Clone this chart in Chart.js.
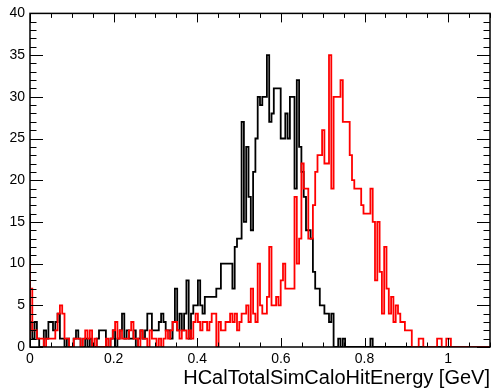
<!DOCTYPE html>
<html><head><meta charset="utf-8">
<script src="https://cdn.jsdelivr.net/npm/chart.js@4"></script>
<style>html,body{margin:0;padding:0;background:#fff;}#wrap{width:491px;height:390px;}</style>
</head><body><div id="wrap"><canvas id="c" width="491" height="390"></canvas></div>
<script>
const xMin = 0, xMax = 1.1, binWidth = 0.0055;
const blackCounts = [
16,3,1,3,1,0,0,2,1,3,
3,2,3,4,1,1,0,1,0,0,
1,2,1,0,0,1,0,1,0,0,
1,2,2,2,0,0,1,2,0,1,
2,4,1,2,1,1,2,0,1,2,
1,2,4,4,2,2,2,3,4,3,
2,2,1,3,7,2,4,2,4,8,
1,4,5,5,8,5,4,6,6,6,
6,6,7,7,10,10,10,10,10,7,
12,13,13,27,15,24,18,14,21,25,
30,29,30,30,35,27,28,31,31,31,
25,25,28,25,30,30,19,32,24,21,
18,14,14,13,9,7,7,5,5,4,
4,3,4,0,0,1,0,1,0,0,
0,0,0,0,0,0,0,0,0,1,
0,0,0,0,0,0,0,0,0,0,
0,0,0,0,0,0,0,0,0,0,
0,0,0,0,0,0,0,0,0,0,
0,0,0,0,0,0,0,0,0,0,
0,0,0,0,0,0,0,0,0,0];
const redCounts = [
10,7,2,2,1,1,1,0,1,1,
1,1,2,4,5,4,1,1,0,0,
1,1,1,0,1,2,1,2,0,1,
0,0,0,0,1,0,1,2,3,1,
2,1,1,1,2,3,1,1,0,2,
1,1,0,2,1,1,0,1,0,1,
2,1,2,3,3,2,1,2,2,1,
2,1,3,4,3,2,3,3,2,3,
4,4,0,3,2,2,3,3,4,3,
4,2,3,4,4,5,3,7,4,3,
10,5,4,4,6,12,5,5,6,5,
8,10,7,7,7,7,18,10,13,22,
19,19,13,13,17,21,23,23,26,22,
22,35,19,30,30,30,32,27,27,27,
23,20,19,19,19,17,16,16,16,19,
15,8,15,9,4,12,7,4,6,3,
5,4,3,3,2,2,2,0,0,0,
1,1,0,0,0,0,0,0,1,1,
0,0,1,1,0,0,0,0,0,0,
0,0,0,0,0,0,0,0,0,0];
const xTickLabels = [0, 0.2, 0.4, 0.6, 0.8, 1];
const yTickValues = [0, 5, 10, 15, 20, 25, 30, 35, 40];
const xMinorStep = 0.05, yMinorStep = 1;
const xTitle = 'HCalTotalSimCaloHitEnergy [GeV]';

function stepPoints(counts) {
  const pts = [{x: xMin, y: 0}];
  counts.forEach((v, i) => pts.push({x: xMin + i * binWidth, y: v}));
  pts.push({x: xMin + counts.length * binWidth, y: counts[counts.length - 1]});
  return pts;
}

const frameTicks = {
  id: 'frameTicks',
  afterDatasetsDraw(chart) {
    const {ctx, chartArea: a, scales: {x, y}} = chart;
    ctx.save();
    ctx.strokeStyle = '#000';
    ctx.lineWidth = 1;
    const line = (x1, y1, x2, y2) => { ctx.beginPath(); ctx.moveTo(x1, y1); ctx.lineTo(x2, y2); ctx.stroke(); };
    const nx = Math.round((xMax - xMin) / xMinorStep);
    for (let k = 0; k <= nx; k++) {
      const v = xMin + k * xMinorStep;
      const px = Math.round(x.getPixelForValue(v)) + 0.5;
      const len = (k % 4 === 0) ? 9 : 4.5;
      line(px, a.bottom, px, a.bottom - len);
      line(px, a.top, px, a.top + len);
    }
    const ny = Math.round((y.max - y.min) / yMinorStep);
    for (let k = 0; k <= ny; k++) {
      const v = y.min + k * yMinorStep;
      const py = Math.round(y.getPixelForValue(v)) + 0.5;
      const len = (k % 5 === 0) ? 13 : 6.5;
      line(a.left, py, a.left + len, py);
      line(a.right, py, a.right - len, py);
    }
    ctx.lineWidth = 1.5;
    ctx.strokeRect(a.left, a.top, a.right - a.left, a.bottom - a.top);
    ctx.restore();
  }
};

const font = 'Liberation Sans, Arial, Helvetica, sans-serif';
new Chart(document.getElementById('c'), {
  type: 'line',
  data: {
    datasets: [
      {label: 'red', data: stepPoints(redCounts), borderColor: '#ff0000', borderWidth: 1.8, stepped: 'after', pointRadius: 0, fill: false},
      {label: 'black', data: stepPoints(blackCounts), borderColor: '#000000', borderWidth: 1.8, stepped: 'after', pointRadius: 0, fill: false}
    ]
  },
  options: {
    responsive: false, animation: false, devicePixelRatio: 1,
    layout: {padding: {top: 13, right: 1, bottom: 0, left: 0}},
    plugins: {legend: {display: false}, tooltip: {enabled: false}},
    scales: {
      x: {
        type: 'linear', min: xMin, max: xMax,
        grid: {display: false, drawTicks: false},
        border: {display: false},
        afterBuildTicks: s => { s.ticks = xTickLabels.map(v => ({value: v})); },
        afterFit: s => { s.height = 43; },
        ticks: {color: '#000', padding: 4, maxRotation: 0, autoSkip: false, font: {family: font, size: 14},
          callback: v => String(Number(v.toFixed(2)))},
        title: {display: true, text: xTitle, align: 'end', color: '#000', padding: {top: 0, bottom: 0}, font: {family: font, size: 20}}
      },
      y: {
        type: 'linear', min: 0, max: 40,
        grid: {display: false, drawTicks: false},
        border: {display: false},
        afterBuildTicks: s => { s.ticks = yTickValues.map(v => ({value: v})); },
        afterFit: s => { s.width = 30; },
        ticks: {color: '#000', padding: 5, font: {family: font, size: 14}}
      }
    }
  },
  plugins: [frameTicks]
});
</script></body></html>
